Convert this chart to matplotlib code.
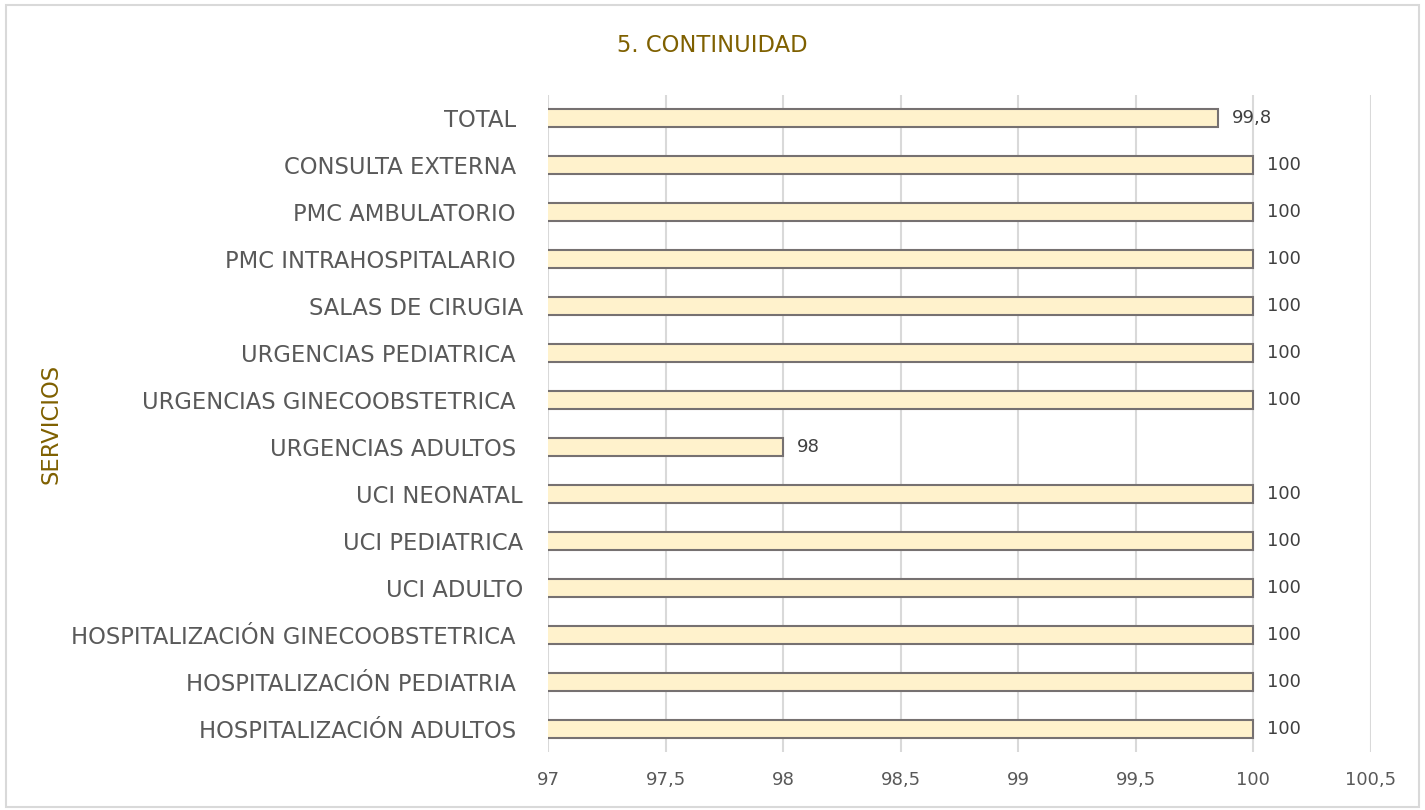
import matplotlib
matplotlib.use("Agg")
import matplotlib.pyplot as plt
from matplotlib.ticker import FuncFormatter, MultipleLocator
from matplotlib.patches import Rectangle

# datos (de abajo hacia arriba)
servicios = [
    "HOSPITALIZACIÓN ADULTOS ",
    "HOSPITALIZACIÓN PEDIATRIA ",
    "HOSPITALIZACIÓN GINECOOBSTETRICA ",
    "UCI ADULTO",
    "UCI PEDIATRICA",
    "UCI NEONATAL",
    "URGENCIAS ADULTOS ",
    "URGENCIAS GINECOOBSTETRICA ",
    "URGENCIAS PEDIATRICA ",
    "SALAS DE CIRUGIA",
    "PMC INTRAHOSPITALARIO ",
    "PMC AMBULATORIO ",
    "CONSULTA EXTERNA ",
    "TOTAL ",
]
valores = [100, 100, 100, 100, 100, 100, 98, 100, 100, 100, 100, 100, 100, 99.85]
etiquetas = ["100", "100", "100", "100", "100", "100", "98", "100", "100", "100",
             "100", "100", "100", "99,8"]

plt.rcParams["font.family"] = ["DejaVu Sans"]

fig = plt.figure(figsize=(14.25, 8.1), dpi=100)
ax = fig.add_axes([0.3846, 0.071, 0.9618 - 0.3846, 0.8833 - 0.071])

y = range(len(servicios))
ax.barh(y, valores, height=0.38, color="#FFF2CC", edgecolor="#767171",
        linewidth=1.5, zorder=3)

for yi, v, lab in zip(y, valores, etiquetas):
    ax.annotate(lab, (v, yi), xytext=(10, 0), textcoords="offset points",
                va="center", ha="left", fontsize=13, color="#404040")

ax.set_xlim(97, 100.5)
ax.set_ylim(-0.5, len(servicios) - 0.5)
ax.xaxis.set_major_locator(MultipleLocator(0.5))
ax.xaxis.set_major_formatter(FuncFormatter(lambda v, p: f"{v:g}".replace(".", ",")))
ax.set_yticks(list(y))
ax.set_yticklabels(servicios)

ax.grid(axis="x", color="#D9D9D9", linewidth=1.5, zorder=0)
for s in ax.spines.values():
    s.set_visible(False)
ax.tick_params(axis="both", length=0, colors="#595959")
ax.tick_params(axis="y", labelsize=16.3, pad=18)
ax.tick_params(axis="x", labelsize=13, pad=13)

fig.text(51 / 1425, 1 - 424 / 810, "SERVICIOS", rotation=90, ha="center", va="center",
         fontsize=16.3, color="#7F6000")
fig.text(712 / 1425, 1 - 46 / 810, "5. CONTINUIDAD", ha="center", va="center",
         fontsize=16.3, color="#7F6000")

fig.patches.append(Rectangle((0.004, 0.004), 0.992, 0.99, transform=fig.transFigure,
                             fill=False, edgecolor="#D9D9D9", linewidth=1.5))

fig.savefig("out.png", dpi=100)
